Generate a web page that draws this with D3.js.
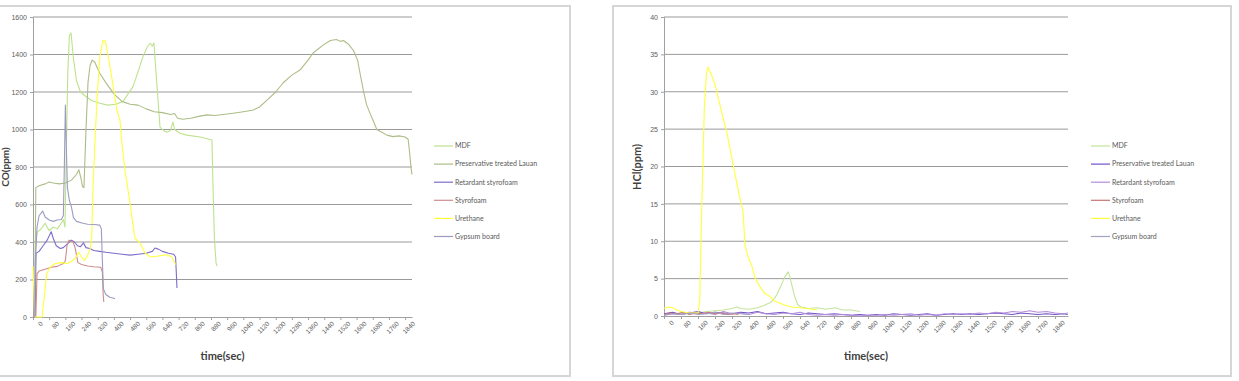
<!DOCTYPE html>
<html>
<head>
<meta charset="utf-8">
<script src="https://cdn.jsdelivr.net/npm/d3@7"></script>
<style>
  body { margin: 0; background: #fff; }
  svg { display: block; font-family: Lato, "Open Sans", sans-serif; }
</style>
</head>
<body>
<svg id="chart" width="1239" height="381"></svg>
<script>
// series names (legend order = draw order)
const seriesNames = ["MDF", "Preservative treated Lauan", "Retardant styrofoam", "Styrofoam", "Urethane", "Gypsum board"];

const xTickValues = [0, 80, 160, 240, 320, 400, 480, 560, 640, 720, 800, 880, 960, 1040, 1120, 1200, 1280, 1360, 1440, 1520, 1600, 1680, 1760, 1840];
const coTicks = [0, 200, 400, 600, 800, 1000, 1200, 1400, 1600];
const hclTicks = [0, 5, 10, 15, 20, 25, 30, 35, 40];

// CO(ppm) readings, [time(sec), value]
const coMDF = [[0,0],[8,0],[12,380],[20,450],[40,470],[60,500],[80,460],[100,480],[120,470],[140,500],[150,520],[158,480],[165,900],[172,1300],[180,1500],[188,1515],[200,1380],[215,1260],[235,1200],[257,1180],[290,1155],[330,1140],[370,1130],[410,1135],[445,1150],[470,1190],[495,1230],[520,1310],[544,1390],[565,1440],[579,1460],[590,1445],[598,1462],[605,1350],[612,1248],[628,1013],[645,995],[661,985],[680,995],[692,1040],[700,1000],[727,980],[760,970],[826,960],[885,944],[890,700],[897,420],[905,290],[910,272]];
const coLauan = [[0,0],[8,0],[14,690],[30,700],[60,710],[80,720],[100,715],[130,710],[160,715],[190,730],[215,760],[227,785],[237,740],[245,695],[252,690],[262,1000],[272,1250],[282,1340],[292,1370],[305,1360],[330,1300],[360,1250],[400,1190],[440,1150],[480,1135],[520,1130],[560,1110],[600,1095],[640,1090],[680,1080],[700,1085],[715,1060],[740,1055],[780,1060],[820,1070],[860,1078],[900,1075],[940,1080],[990,1087],[1040,1095],[1090,1104],[1120,1120],[1157,1157],[1200,1200],[1236,1248],[1280,1290],[1320,1317],[1360,1370],[1385,1408],[1434,1450],[1470,1475],[1500,1480],[1520,1470],[1535,1475],[1560,1455],[1585,1420],[1605,1370],[1617,1300],[1635,1200],[1650,1130],[1665,1090],[1685,1040],[1700,1000],[1725,985],[1750,970],[1780,962],[1810,966],[1840,960],[1855,948],[1862,880],[1870,790],[1874,760]];
const coRetardant = [[0,0],[10,0],[15,340],[30,350],[50,380],[70,410],[90,455],[100,420],[115,380],[135,365],[150,370],[170,390],[190,410],[205,400],[220,380],[235,375],[250,395],[262,370],[280,365],[300,355],[330,350],[360,345],[400,340],[440,335],[480,330],[520,335],[560,340],[590,350],[603,368],[620,362],[640,350],[670,340],[695,335],[705,320],[712,155]];
const coStyrofoam = [[0,0],[14,0],[20,230],[30,245],[60,255],[90,265],[120,270],[150,285],[160,300],[168,380],[178,410],[198,400],[208,370],[222,290],[240,280],[270,272],[300,268],[335,265],[343,240],[347,120],[350,80]];
const coUrethane = [[0,270],[4,150],[8,0],[45,0],[55,100],[68,230],[84,265],[110,285],[140,290],[170,285],[195,300],[210,315],[225,345],[240,320],[255,300],[270,330],[282,360],[290,420],[297,690],[305,900],[316,1150],[330,1380],[346,1475],[358,1470],[370,1400],[381,1333],[398,1220],[415,1104],[430,1050],[442,900],[455,784],[468,690],[480,608],[492,510],[504,420],[529,395],[554,341],[580,320],[620,325],[660,332],[687,320],[695,300],[705,280]];
const coGypsum = [[0,0],[8,0],[12,300],[20,480],[30,540],[48,565],[60,533],[80,517],[100,510],[120,517],[140,520],[150,540],[155,800],[160,1130],[165,900],[170,693],[180,620],[190,587],[200,530],[215,510],[247,500],[270,495],[300,493],[330,490],[338,470],[343,300],[348,150],[360,120],[380,105],[400,100],[405,98]];

// HCl(ppm) readings, [time(sec), value]
const hclMDF = [[0,0.3],[40,0.4],[80,0.3],[120,0.5],[160,0.4],[200,0.6],[240,0.7],[280,0.8],[320,1.0],[343,1.2],[360,1.0],[400,0.9],[440,1.1],[470,1.4],[500,1.8],[513,2.1],[530,2.8],[550,4.0],[568,5.2],[584,5.9],[592,5.3],[600,4.3],[615,2.6],[630,1.5],[645,1.2],[680,1.0],[720,1.1],[760,0.9],[805,1.1],[840,0.8],[880,0.8],[922,0.6]];
const hclLauan = [[0,0.3],[40,0.5],[80,0.2],[120,0.4],[160,0.6],[200,0.3],[240,0.5],[280,0.4],[320,0.3],[360,0.5],[400,0.4],[440,0.6],[480,0.3],[520,0.4],[560,0.5],[600,0.3],[640,0.2],[680,0.4],[720,0.3],[760,0.2],[800,0.3],[840,0.2],[880,0.1],[920,0.2],[960,0.1],[1000,0.2],[1040,0.1],[1080,0.3],[1120,0.2],[1160,0.1],[1200,0.2],[1240,0.3],[1280,0.1],[1320,0.2],[1360,0.3],[1400,0.2],[1440,0.3],[1480,0.2],[1520,0.3],[1560,0.4],[1600,0.3],[1640,0.2],[1680,0.4],[1720,0.3],[1760,0.2],[1800,0.3],[1840,0.2],[1880,0.3],[1900,0.2]];
const hclRetardant = [[0,0.1],[40,0.3],[80,0.2],[120,0.5],[160,0.3],[200,0.4],[240,0.2],[280,0.6],[320,0.3],[360,0.4],[400,0.2],[440,0.5],[480,0.3],[520,0.2],[560,0.4],[600,0.3],[640,0.5],[680,0.2],[720,0.1],[760,0.2],[800,0.1],[840,0.2],[880,0.1],[920,0.0],[960,0.1],[1000,0.1],[1040,0.2],[1080,0.1],[1120,0.2],[1160,0.3],[1200,0.1],[1240,0.2],[1280,0.1],[1320,0.3],[1360,0.2],[1400,0.3],[1440,0.2],[1480,0.4],[1520,0.3],[1560,0.5],[1600,0.4],[1640,0.6],[1680,0.5],[1720,0.7],[1760,0.5],[1800,0.6],[1840,0.4],[1880,0.3],[1900,0.4]];
const hclStyrofoam = [[0,0.2],[30,0.4],[60,0.3],[90,0.5],[120,0.2],[150,0.4],[180,0.3],[210,0.5],[240,0.3],[270,0.4],[300,0.2],[330,0.3],[350,0.2]];
const hclUrethane = [[0,1.0],[20,1.2],[40,1.1],[60,0.8],[80,0.6],[100,0.5],[130,0.4],[160,0.4],[168,2],[178,15],[190,28],[200,32.5],[207,33.3],[220,32.5],[240,31],[265,28],[296,24.5],[320,21],[334,19],[355,16],[372,14],[381,9.5],[395,8],[414,6.6],[430,5],[452,3.9],[475,3],[499,2.6],[520,2],[546,1.7],[575,1.4],[602,1.2],[640,1.1],[670,1.0],[700,0.9],[720,0.8]];
const hclGypsum = [[0,0.1],[40,0.3],[80,0.2],[120,0.4],[160,0.2],[200,0.3],[240,0.5],[280,0.2],[320,0.4],[360,0.3],[400,0.2]];

const coColors = ["#bde38c", "#adbd86", "#7d6cc9", "#cf8c8c", "#ffff3c", "#9c9cc2"];
const hclColors = ["#c4e49c", "#6f52c6", "#b48ddb", "#c87474", "#ffff3c", "#a2a2c2"];

const svg = d3.select("#chart");

function drawChart(cfg) {

    const g = svg.append("g");

    // frame
    g.append("rect")
        .attr("x", cfg.frame[0]).attr("y", cfg.frame[1])
        .attr("width", cfg.frame[2] - cfg.frame[0])
        .attr("height", cfg.frame[3] - cfg.frame[1])
        .attr("fill", "none")
        .attr("stroke", "#d6d6d6")
        .attr("stroke-width", 2);

    const x = d3.scaleLinear().domain([0, cfg.tMax]).range([cfg.left, cfg.right]);
    const y = d3.scaleLinear().domain([0, cfg.yMax]).range([cfg.bottom, cfg.top]);

    // gridlines
    g.append("g")
        .selectAll("line")
        .data(cfg.yTicks.filter(d => d > 0))
        .join("line")
        .attr("x1", cfg.left).attr("x2", cfg.right)
        .attr("y1", d => y(d)).attr("y2", d => y(d))
        .attr("stroke", "#9a9a9a")
        .attr("stroke-width", 1);

    // y axis
    const yAxis = g.append("g")
        .attr("transform", `translate(${cfg.left},0)`)
        .call(d3.axisLeft(y).tickValues(cfg.yTicks).tickFormat(d3.format("d")).tickSize(3).tickPadding(3));
    yAxis.select(".domain").attr("stroke", "#a0a0a0");
    yAxis.selectAll(".tick line").attr("stroke", "#a0a0a0");
    yAxis.selectAll("text").attr("fill", "#606060").style("font-size", "7px");

    // x axis
    const xAxis = g.append("g")
        .attr("transform", `translate(0,${cfg.bottom})`)
        .call(d3.axisBottom(x).tickValues(xTickValues).tickFormat(d3.format("d")).tickSize(3).tickSizeOuter(0));
    xAxis.select(".domain").attr("stroke", "#a0a0a0");
    xAxis.selectAll(".tick line").attr("stroke", "#a0a0a0");
    xAxis.selectAll("text")
        .attr("fill", "#606060")
        .style("font-size", "6.5px")
        .attr("text-anchor", "end")
        .attr("dx", "2")
        .attr("dy", "6")
        .attr("transform", "rotate(-45)");

    // lines
    const line = d3.line().x(d => x(d[0])).y(d => y(d[1]));
    g.append("g")
        .selectAll("path")
        .data(cfg.series)
        .join("path")
        .attr("d", d => line(d))
        .attr("fill", "none")
        .attr("stroke", (d, i) => cfg.colors[i])
        .attr("stroke-width", 1.1)
        .attr("stroke-linejoin", "round");

    // axis titles
    g.append("text")
        .attr("x", (cfg.left + cfg.right) / 2 - cfg.xTitleShift)
        .attr("y", 360)
        .attr("text-anchor", "middle")
        .attr("fill", "#404040")
        .style("font-size", "11px")
        .style("font-weight", "bold")
        .text("time(sec)");

    g.append("text")
        .attr("transform", `translate(${cfg.yTitleX},167) rotate(-90)`)
        .attr("text-anchor", "middle")
        .attr("fill", "#404040")
        .style("font-size", cfg.yTitleSize)
        .style("font-weight", "bold")
        .text(cfg.yTitle);

    // legend
    const leg = g.append("g")
        .selectAll("g")
        .data(seriesNames)
        .join("g")
        .attr("transform", (d, i) => `translate(${cfg.legendX},${146 + i * 18.1})`);
    leg.append("line")
        .attr("x1", 0).attr("x2", 19)
        .attr("stroke", (d, i) => cfg.colors[i])
        .attr("stroke-width", 1.2);
    leg.append("text")
        .attr("x", 21)
        .attr("dy", "0.33em")
        .attr("fill", "#595959")
        .style("font-size", "7px")
        .text(d => d);
}

drawChart({
    frame: [-4, 6, 570, 376],
    left: 33, right: 412, top: 17, bottom: 317,
    tMax: 1874, yMax: 1600, yTicks: coTicks,
    series: [coMDF, coLauan, coRetardant, coStyrofoam, coUrethane, coGypsum],
    colors: coColors,
    yTitle: "CO(ppm)", yTitleX: 9, yTitleSize: "10px", xTitleShift: 0,
    legendX: 434
});

drawChart({
    frame: [613, 6, 1231, 376],
    left: 664, right: 1068, top: 17, bottom: 316,
    tMax: 1901, yMax: 40, yTicks: hclTicks,
    series: [hclMDF, hclLauan, hclRetardant, hclStyrofoam, hclUrethane, hclGypsum],
    colors: hclColors,
    yTitle: "HCl(ppm)", yTitleX: 641, yTitleSize: "11px", xTitleShift: 0,
    legendX: 1091
});
</script>
</body>
</html>
